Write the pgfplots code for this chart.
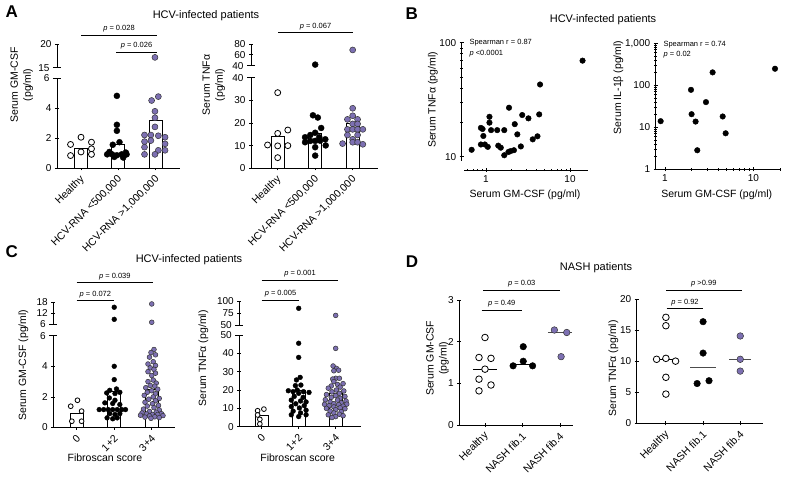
\documentclass[border=0pt]{standalone}
\usepackage{fontspec}
\setmainfont{Liberation Sans}
\usepackage{pgfplots}
\pgfplotsset{compat=1.18}
\definecolor{pur}{RGB}{125,112,178}
\pgfplotsset{
 base/.style={scale only axis, anchor=south west, enlargelimits=false, clip=false,
   tick style={black, line width=0.8pt},
   major tick length=4pt, minor tick length=2.5pt, tick align=outside,
   ticklabel style={font=\fontsize{10}{11}\selectfont},
   /pgf/number format/assume math mode=true,
   /pgf/number format/1000 sep={,}},
 nolinearrow/.style={axis line style={-, line width=0.8pt},
   every outer x axis line/.append style={-}, every outer y axis line/.append style={-},
   every inner x axis line/.append style={-}, every inner y axis line/.append style={-}},
 lowax/.style={base, axis x line=bottom, axis y line=left, nolinearrow, xtick={0,1,2},
   xticklabel style={yshift=-6.5pt, xshift=2.5pt, rotate=45, anchor=east, font=\fontsize{10.5}{11}\selectfont, inner sep=1pt},
   extra y tick style={tick align=center, major tick length=8pt}},
 upax/.style={base, axis x line=none, axis y line=left, nolinearrow,
   extra y tick style={tick align=center, major tick length=8pt}},
 open/.style={only marks, mark=*, mark size=3pt, mark options={fill=white, draw=black, line width=0.8pt}},
 blk/.style={only marks, mark=*, mark size=3pt, mark options={fill=black, draw=black, line width=0.4pt}},
 prp/.style={only marks, mark=*, mark size=3pt, mark options={fill=pur, draw=black!80, line width=0.5pt}},
 bar/.style={ybar, bar width=13pt, bar shift=0pt, draw=black, fill=white, line width=0.8pt},
}
\newcommand{\lab}{\fontsize{10.5}{13}\selectfont}
\newcommand{\pl}{\fontsize{7.5}{8}\selectfont}
\newcommand{\spf}{\fontsize{7.5}{8}\selectfont}
\begin{document}
\begin{tikzpicture}
\path[use as bounding box] (0,0) rectangle (787pt,480pt);
% ===== Panel letters and titles
\node[font=\bfseries\fontsize{17}{17}\selectfont] at (11.7pt,468.3pt) {A};
\node[font=\bfseries\fontsize{17}{17}\selectfont] at (411.7pt,466.7pt) {B};
\node[font=\bfseries\fontsize{17}{17}\selectfont] at (11.7pt,228.3pt) {C};
\node[font=\bfseries\fontsize{17}{17}\selectfont] at (412pt,218pt) {D};
\node[font=\fontsize{11}{12}\selectfont] at (206pt,464pt) {HCV-infected patients};
\node[font=\fontsize{11}{12}\selectfont] at (603pt,460pt) {HCV-infected patients};
\node[font=\fontsize{11}{12}\selectfont] at (189pt,220pt) {HCV-infected patients};
\node[font=\fontsize{11}{12}\selectfont] at (596pt,212pt) {NASH patients};

% ===== A left
\begin{axis}[lowax, at={(57pt,311.7pt)}, width=123pt, height=90pt,
  xmin=-0.643, xmax=2.65, ymin=0, ymax=6, ytick={0,2,4}, extra y ticks={6},
  xticklabels={Healthy,{HCV-RNA <500,000},{HCV-RNA >1,000,000}}]
\addplot[bar] coordinates {(0,1.35) (1,1.6) (2,3.2)};
\addplot[open] coordinates {(-0.28,1.59) (0,2.07) (0.28,1.74) (0.28,1.3) (-0.28,0.85) (0,1.09) (0.28,0.93)};
\addplot[blk] coordinates {(0.96,4.83) (0.96,2.9) (0.96,2.5) (1.03,1.74) (0.85,1.57) (0.7,0.93) (0.83,0.93) (0.96,0.87) (1.09,0.93) (1.22,0.93) (0.89,0.76) (1.13,0.72) (0.76,1.09) (1.2,1.05)};
\addplot[prp] coordinates {(2.07,4.78) (1.89,4.52) (1.98,3.8) (1.98,3.37) (1.98,2.76) (1.7,2.22) (1.87,2.22) (2.07,2.17) (2.25,2.07) (1.7,1.78) (1.87,1.85) (2.25,1.63) (1.7,1.41) (2.07,1.2) (2.25,1.2) (1.7,0.93) (1.98,0.93)};
\end{axis}
\begin{axis}[upax, at={(57pt,412.3pt)}, width=123pt, height=23.4pt,
  xmin=-0.643, xmax=2.65, ymin=15, ymax=20, ytick={20}, extra y ticks={15}]
\addplot[prp] coordinates {(1.98,17.2)};
\end{axis}
\node[rotate=90, align=center, font=\lab] at (21.7pt,395pt) {Serum GM-CSF\\(pg/ml)};
\draw[line width=0.8pt] (81pt,445pt) -- (157pt,445pt);
\node[font=\pl] at (119pt,451pt) {\textit{p} = 0.028};
\draw[line width=0.8pt] (116pt,428pt) -- (157pt,428pt);
\node[font=\pl] at (136.5pt,434pt) {\textit{p} = 0.026};

% ===== A right
\begin{axis}[lowax, at={(251pt,311.7pt)}, width=127pt, height=90.6pt,
  xmin=-0.712, xmax=2.675, ymin=0, ymax=40, ytick={0,10,20,30}, extra y ticks={40},
  xticklabels={Healthy,{HCV-RNA <500,000},{HCV-RNA >1,000,000}}]
\addplot[bar] coordinates {(0,14.2) (1,15.5) (2,19.8)};
\addplot[open] coordinates {(0,33.4) (0,15.4) (0.27,16.9) (-0.27,10.3) (0,9.9) (0.27,10) (0,4.7)};
\addplot[blk] coordinates {(0.94,23.4) (1.07,22.4) (1.16,17.8) (1,15.7) (0.87,14.7) (0.73,13.7) (1.11,13.7) (1.27,12.8) (0.73,11.5) (0.87,12.1) (1,12.1) (1.13,12.2) (1.28,10.1) (1,9.3) (1,5.6)};
\addplot[prp] coordinates {(2,26.5) (2,23.2) (1.86,21.6) (2.13,21.6) (2,19.6) (2.13,19.6) (1.86,17.2) (2,17.2) (2.13,17.2) (2.27,17.2) (1.86,14.7) (2.13,14.7) (2,12.8) (1.73,10.9) (2,11.5) (2.13,11.5) (2.27,10.6)};
\end{axis}
\begin{axis}[upax, at={(251pt,414.3pt)}, width=127pt, height=21.7pt,
  xmin=-0.712, xmax=2.675, ymin=40, ymax=80, ytick={60,80}, extra y ticks={40}]
\addplot[blk] coordinates {(1,42)};
\addplot[prp] coordinates {(2,69)};
\end{axis}
\node[rotate=90, align=center, font=\lab] at (213.8pt,395pt) {Serum TNFα\\(pg/ml)};
\draw[line width=0.8pt] (278pt,447.7pt) -- (353pt,447.7pt);
\node[font=\pl] at (315.5pt,453.7pt) {\textit{p} = 0.067};

% ===== B left
\begin{axis}[base, axis x line=none, axis y line=left, nolinearrow, xmode=log, ymode=log,
  at={(461.7pt,319pt)}, width=126.6pt, height=118.3pt,
  xmin=0.514, xmax=16.51, ymin=9.17, ymax=100,
  ytick={10,100}, yticklabels={10,100}, minor ytick={20,30,40,50,60,70,80,90}]
\addplot[only marks, mark=*, mark size=2.8pt, black] coordinates {(0.675,11.5) (0.87,17.9) (0.91,17.5) (0.93,15.2) (0.87,12.8) (0.97,12.8) (1.05,12.2) (1.1,22.4) (1.1,19.9) (1.15,17.1) (1.36,17.1) (1.4,12.5) (1.5,12.0) (1.65,17.1) (1.65,10.3) (1.88,26.9) (1.85,11.0) (1.96,11.2) (2.15,11.4) (2.2,19.3) (2.36,15.7) (2.7,23.2) (2.6,12.3) (3.2,21.7) (3.6,14.2) (4.1,15.1) (4.3,23.5) (4.4,43.0) (14.1,69.6)};
\end{axis}
\begin{axis}[base, axis x line=bottom, axis y line=none, nolinearrow, xmode=log,
  at={(464pt,310pt)}, width=124.3pt, height=10pt,
  xmin=0.547, xmax=16.51, ymin=0, ymax=1,
  xtick={1,10}, xticklabels={1,10}, minor xtick={0.6,0.7,0.8,0.9,2,3,4,5,6,7,8,9}]
\end{axis}
\node[rotate=90, font=\lab] at (433pt,380pt) {Serum TNFα (pg/ml)};
\node[font=\lab] at (525pt,285pt) {Serum GM-CSF (pg/ml)};
\node[font=\spf, anchor=west] at (466pt,437pt) {Spearman r = 0.87};
\node[font=\spf, anchor=west] at (466pt,426.5pt) {\textit{p} <0.0001};

% ===== B right
\begin{axis}[base, axis x line=bottom, axis y line=left, nolinearrow, xmode=log, ymode=log,
  at={(655.7pt,310.7pt)}, width=124.3pt, height=126pt,
  xmin=0.785, xmax=20.05, ymin=1, ymax=1000,
  xtick={1,10}, xticklabels={1,10}, minor xtick={2,3,4,5,6,7,8,9,20},
  ytick={1,10,100,1000}, yticklabels={1,10,100,{1,000}},
  minor ytick={2,3,4,5,6,7,8,9,20,30,40,50,60,70,80,90,200,300,400,500,600,700,800,900}]
\addplot[only marks, mark=*, mark size=2.8pt, black] coordinates {(0.893,14.0) (1.97,78) (2.0,20.5) (2.22,13.7) (2.32,2.84) (2.91,39.8) (3.46,203) (4.5,18.1) (4.86,7.2) (17.6,248)};
\end{axis}
\node[rotate=90, font=\lab] at (618.3pt,392.7pt) {Serum IL-1β (pg/ml)};
\node[font=\lab] at (716.7pt,285pt) {Serum GM-CSF (pg/ml)};
\node[font=\spf, anchor=west] at (660pt,435pt) {Spearman r = 0.74};
\node[font=\spf, anchor=west] at (660pt,425.5pt) {\textit{p} = 0.02};

% ===== C left
\begin{axis}[lowax, at={(53.3pt,52.5pt)}, width=121.7pt, height=91.8pt,
  xmin=-0.624, xmax=2.62, ymin=0, ymax=6, ytick={0,2,4}, extra y ticks={6},
  xticklabels={0,1+2,3+4}]
\addplot[bar] coordinates {(0,0.95) (1,2.35) (2,2.5)};
\addplot[open, mark size=2.4pt] coordinates {(0.02,1.78) (-0.16,1.39) (0.13,1.07) (-0.13,0.41) (0.13,0.41)};
\addplot[blk, mark size=2.4pt] coordinates {(1,4.0) (1,3.13) (1.06,2.52) (0.88,2.43) (0.8,2.26) (1.02,2.22) (1.15,2.3) (0.87,1.93) (1.02,1.78) (0.75,1.61) (0.96,1.57) (1.15,1.5) (0.6,1.17) (0.72,1.17) (0.84,1.17) (0.96,1.17) (1.08,1.17) (1.2,1.17) (1.3,1.17) (0.88,0.91) (1.02,0.85) (1.15,0.91) (0.81,0.63) (0.96,0.57) (1.08,0.63)};
\addplot[prp, mark size=2.4pt] coordinates {(2.06,5.1) (1.98,4.9) (2.1,4.75) (1.94,4.6) (2.04,4.3) (1.9,4.15) (2.1,4.05) (1.96,3.9) (2.06,3.8) (1.9,3.65) (2.1,3.55) (2.0,3.4) (2.04,3.1) (1.9,3.0) (2.12,2.9) (1.96,2.75) (2.08,2.7) (1.84,2.6) (2.16,2.5) (2.0,2.4) (1.88,2.3) (2.1,2.2) (1.8,2.1) (2.04,2.0) (2.2,1.9) (1.92,1.85) (2.1,1.75) (1.82,1.65) (2.02,1.55) (2.18,1.45) (1.88,1.4) (2.06,1.3) (1.78,1.2) (2.2,1.15) (1.94,1.05) (2.12,1.0) (1.74,0.95) (2.26,0.9) (1.86,0.88) (2.02,0.85) (2.16,0.85) (1.7,0.8) (2.3,0.78) (1.94,0.75) (2.08,0.7) (1.82,0.68) (2.2,0.65) (1.98,0.6)};
\end{axis}
\begin{axis}[upax, at={(53.3pt,155.7pt)}, width=121.7pt, height=22pt,
  xmin=-0.624, xmax=2.62, ymin=6, ymax=18, ytick={12,18}, extra y ticks={6}]
\addplot[blk, mark size=2.4pt] coordinates {(1,15.3) (1,8.7)};
\addplot[prp, mark size=2.4pt] coordinates {(2,17.1) (2,7.1)};
\end{axis}
\node[rotate=90, font=\lab] at (23.3pt,115pt) {Serum GM-CSF (pg/ml)};
\node[font=\lab] at (105pt,22.3pt) {Fibroscan score};
\draw[line width=0.8pt] (76.7pt,197.7pt) -- (153pt,197.7pt);
\node[font=\pl] at (114.8pt,203.7pt) {\textit{p} = 0.039};
\draw[line width=0.8pt] (76.7pt,179.3pt) -- (114pt,179.3pt);
\node[font=\pl] at (95.3pt,185.3pt) {\textit{p} = 0.072};

% ===== C right
\begin{axis}[lowax, at={(239.3pt,53.3pt)}, width=121.4pt, height=91.7pt,
  xmin=-0.605, xmax=2.676, ymin=0, ymax=50, ytick={0,10,20,30,40}, extra y ticks={50},
  xticklabels={0,1+2,3+4}]
\addplot[bar] coordinates {(0,6) (1,19.6) (2,17.9)};
\addplot[open, mark size=2.4pt] coordinates {(-0.11,8.7) (-0.11,6.4) (0.06,9.6) (-0.05,4) (-0.05,1.5)};
\addplot[blk, mark size=2.4pt] coordinates {(1,45.5) (1,37.8) (1.04,26.9) (0.94,25.5) (0.91,22.4) (1.06,22.7) (0.96,20) (0.72,19.6) (0.85,19.1) (1.13,19.1) (1.28,18.7) (1,18.2) (0.88,16.5) (1.12,16) (0.8,14.5) (1.05,14) (1.2,13.5) (0.92,12.5) (1.15,11.5) (0.8,11) (1.02,10.2) (1.2,9) (0.85,8.5) (1.05,7.5) (0.8,6.5) (1.2,6.5) (1,5.5)};
\addplot[prp, mark size=2.4pt] coordinates {(2,42.7) (1.93,33.1) (2.02,31.8) (1.95,30.5) (2.08,30.8) (2,26.4) (2.1,26.4) (1.92,26) (1.95,24.6) (2.05,23) (2.2,23.5) (1.88,22.2) (2.12,21.6) (1.8,21) (2.02,20) (2.22,19.5) (1.9,19) (2.1,18.2) (1.75,17.5) (2,17) (2.25,16.5) (1.88,16) (2.12,15.5) (1.72,14.7) (2.05,14.5) (2.28,14) (1.85,13.5) (2.15,13) (1.95,12.5) (2.3,12.3) (1.7,12.2) (2.08,12) (1.82,11.5) (2.2,11.2) (1.95,10.8) (2.12,10.3) (1.75,10) (2.25,9.8) (2,9.3) (1.85,8.5) (2.15,8.2) (1.95,7.5) (2.1,6.8) (1.8,6.5) (2.2,6) (2,5.5) (1.9,5)};
\end{axis}
\begin{axis}[upax, at={(239.3pt,155pt)}, width=121.4pt, height=24pt,
  xmin=-0.605, xmax=2.676, ymin=50, ymax=100, ytick={75,100}, extra y ticks={50}]
\addplot[blk, mark size=2.4pt] coordinates {(1,84.8)};
\addplot[prp, mark size=2.4pt] coordinates {(2,70)};
\end{axis}
\node[rotate=90, font=\lab] at (203.3pt,121.7pt) {Serum TNFα (pg/ml)};
\node[font=\lab] at (297.7pt,22.3pt) {Fibroscan score};
\draw[line width=0.8pt] (261.7pt,200pt) -- (338.3pt,200pt);
\node[font=\pl] at (300pt,206pt) {\textit{p} = 0.001};
\draw[line width=0.8pt] (261.7pt,180pt) -- (299.3pt,180pt);
\node[font=\pl] at (280.5pt,186pt) {\textit{p} = 0.005};

% ===== D left
\begin{axis}[lowax, at={(459.3pt,55pt)}, width=114pt, height=125pt,
  xmin=-0.685, xmax=2.355, ymin=0, ymax=3, ytick={0,1,2,3},
  xticklabels={Healthy,NASH fib.1,NASH fib.4}]
\addplot[black, line width=1.1pt] coordinates {(-0.32,1.34) (0.32,1.34)};
\addplot[black, line width=1.1pt] coordinates {(0.68,1.45) (1.32,1.45)};
\addplot[black!70, line width=1.1pt] coordinates {(1.68,2.22) (2.32,2.22)};
\addplot[open, mark size=3.3pt] coordinates {(0,2.1) (-0.16,1.62) (0.16,1.6) (0,1.34) (-0.16,1.1) (0.16,0.96) (-0.16,0.82)};
\addplot[blk, mark size=3.3pt] coordinates {(1.02,1.88) (1.02,1.53) (0.75,1.42) (1.27,1.42)};
\addplot[prp, mark size=3.3pt] coordinates {(1.85,2.28) (2.18,2.22) (2.03,1.64)};
\end{axis}
\node[rotate=90, align=center, font=\lab] at (437.5pt,121.7pt) {Serum GM-CSF\\(pg/ml)};
\draw[line width=0.8pt] (483.3pt,190pt) -- (560pt,190pt);
\node[font=\pl] at (521.7pt,196pt) {\textit{p} = 0.03};
\draw[line width=0.8pt] (481.7pt,170pt) -- (521.7pt,170pt);
\node[font=\pl] at (501.7pt,176pt) {\textit{p} = 0.49};

% ===== D right
\begin{axis}[lowax, at={(636.7pt,56.7pt)}, width=126.6pt, height=124.3pt,
  xmin=-0.785, xmax=2.62, ymin=0, ymax=20, ytick={0,5,10,15,20},
  xticklabels={Healthy,NASH fib.1,NASH fib.4}]
\addplot[black, line width=1.1pt] coordinates {(-0.3,10.2) (0.3,10.2)};
\addplot[black!70, line width=1.1pt] coordinates {(0.65,9.0) (1.35,9.0)};
\addplot[black!70, line width=1.1pt] coordinates {(1.71,10.3) (2.29,10.3)};
\addplot[open, mark size=3.3pt] coordinates {(0,17.05) (0,15.7) (-0.25,10.3) (0,10.45) (0.26,10.0) (0,7.4) (0,4.7)};
\addplot[blk, mark size=3.3pt] coordinates {(1,16.35) (1,11.3) (0.84,6.4) (1.16,6.85)};
\addplot[prp, mark size=3.3pt] coordinates {(2,14.05) (2,10.3) (2,8.4)};
\end{axis}
\node[rotate=90, font=\lab] at (613.3pt,111.7pt) {Serum TNFα (pg/ml)};
\draw[line width=0.8pt] (666pt,190pt) -- (741.7pt,190pt);
\node[font=\pl] at (703.8pt,196pt) {\textit{p} >0.99};
\draw[line width=0.8pt] (666.7pt,171.7pt) -- (703.3pt,171.7pt);
\node[font=\pl] at (685pt,177.7pt) {\textit{p} = 0.92};
\end{tikzpicture}
\end{document}
